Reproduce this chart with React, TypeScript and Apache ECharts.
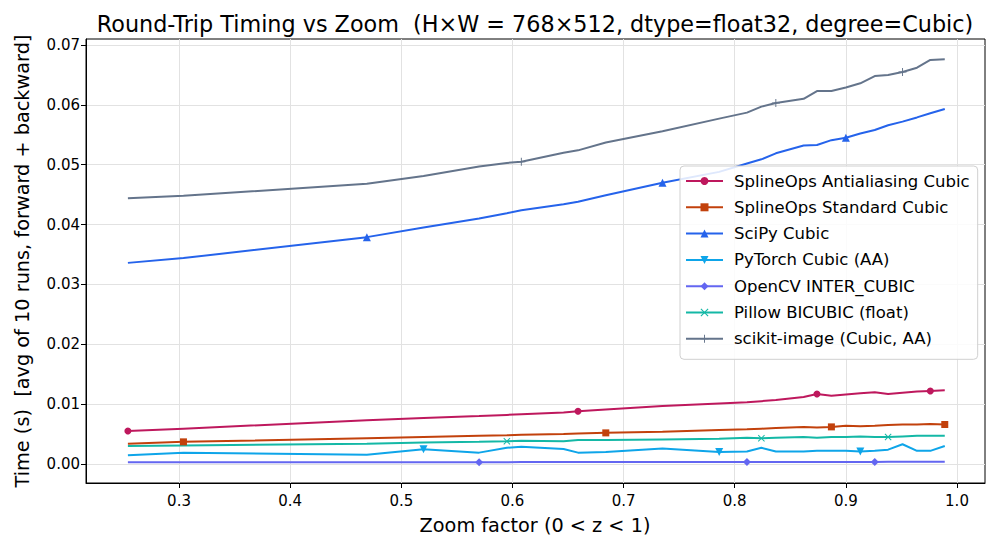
import React, { useEffect, useRef } from "react";
import * as echarts from "echarts";

const zoomFactors = [0.254, 0.304, 0.469, 0.52, 0.57, 0.595, 0.608, 0.646, 0.659, 0.684, 0.735, 0.786, 0.811, 0.824, 0.837, 0.862, 0.874, 0.887, 0.9, 0.913, 0.926, 0.938, 0.951, 0.964, 0.976, 0.989];

const seriesNames = [
  "SplineOps Antialiasing Cubic",
  "SplineOps Standard Cubic",
  "SciPy Cubic",
  "PyTorch Cubic (AA)",
  "OpenCV INTER_CUBIC",
  "Pillow BICUBIC (float)",
  "scikit-image (Cubic, AA)",
];

const splineAA = [0.0055, 0.0059, 0.0073, 0.0077, 0.008, 0.0082, 0.0083, 0.0086, 0.0088, 0.0091, 0.0097, 0.0101, 0.0103, 0.0105, 0.0107, 0.0112, 0.0117, 0.0114, 0.0116, 0.0118, 0.012, 0.0117, 0.0119, 0.0121, 0.0122, 0.0123];
const splineStd = [0.0034, 0.0037, 0.0043, 0.0045, 0.0047, 0.0048, 0.0049, 0.005, 0.0051, 0.0052, 0.0054, 0.0057, 0.0058, 0.0059, 0.006, 0.0062, 0.0061, 0.0062, 0.0064, 0.0063, 0.0064, 0.0065, 0.0066, 0.0066, 0.0067, 0.0066];
const scipy = [0.0336, 0.0344, 0.0379, 0.0395, 0.041, 0.0419, 0.0424, 0.0434, 0.0438, 0.0449, 0.047, 0.0488, 0.0502, 0.0509, 0.0519, 0.0532, 0.0533, 0.0541, 0.0545, 0.0552, 0.0558, 0.0566, 0.0572, 0.0579, 0.0586, 0.0593];
const pytorch = [0.00145, 0.0019, 0.00155, 0.00245, 0.0019, 0.0027, 0.0029, 0.0025, 0.0019, 0.002, 0.0026, 0.002, 0.0021, 0.0027, 0.0021, 0.0021, 0.0022, 0.0022, 0.0022, 0.0021, 0.0022, 0.0024, 0.0033, 0.0022, 0.0022, 0.003];
const opencv = [0.00028, 0.0003, 0.0003, 0.0003, 0.0003, 0.00031, 0.00032, 0.00032, 0.00032, 0.00032, 0.00033, 0.00033, 0.00033, 0.00034, 0.00034, 0.00034, 0.00034, 0.00035, 0.00035, 0.00035, 0.00035, 0.00036, 0.00036, 0.00036, 0.00036, 0.00037];
const pillow = [0.003, 0.0031, 0.0034, 0.0036, 0.0037, 0.0038, 0.0039, 0.0038, 0.004, 0.004, 0.0041, 0.0042, 0.0044, 0.0043, 0.0044, 0.0045, 0.0044, 0.0045, 0.0045, 0.0046, 0.0045, 0.0045, 0.0046, 0.0047, 0.0047, 0.0047];
const skimage = [0.0444, 0.0448, 0.0468, 0.0481, 0.0497, 0.0503, 0.0505, 0.052, 0.0524, 0.0537, 0.0556, 0.0577, 0.0587, 0.0597, 0.0603, 0.061, 0.0623, 0.0623, 0.0629, 0.0636, 0.0648, 0.065, 0.0655, 0.0662, 0.0675, 0.0676];

const seriesValues = [splineAA, splineStd, scipy, pytorch, opencv, pillow, skimage];

const xTicks = [0.3, 0.4, 0.5, 0.6, 0.7, 0.8, 0.9, 1.0];
const yTicks = [0, 0.01, 0.02, 0.03, 0.04, 0.05, 0.06, 0.07];

const titleText = "Round-Trip Timing vs Zoom  (H×W = 768×512, dtype=float32, degree=Cubic)";
const xLabelText = "Zoom factor (0 < z < 1)";
const yLabelText = "Time (s)  [avg of 10 runs, forward + backward]";

const COLORS = ["#be185d", "#c2410c", "#2563eb", "#0ea5e9", "#6366f1", "#14b8a6", "#64748b"];
const SYMBOLS = [
  "circle",
  "rect",
  "triangle",
  "path://M-1,-1L1,-1L0,1Z",
  "diamond",
  "path://M-1,-0.8L-0.8,-1L1,0.8L0.8,1Z M1,-0.8L0.8,-1L-1,0.8L-0.8,1Z",
  "path://M-1,-0.12L1,-0.12L1,0.12L-1,0.12Z M-0.12,-1L0.12,-1L0.12,1L-0.12,1Z",
];
const SYMBOL_SIZES = [7, 7, 8, 8, 8, 7, 8];
const MARK_STEP = 8;

const FONT = "DejaVu Sans";

export default function App() {
  const ref = useRef<HTMLDivElement>(null);
  useEffect(() => {
    if (!ref.current) return;
    const chart = echarts.init(ref.current, undefined, { renderer: "svg" });

    const series = seriesNames.map((name, i) => ({
      name,
      type: "line",
      symbol: SYMBOLS[i],
      symbolSize: SYMBOL_SIZES[i],
      showSymbol: true,
      showAllSymbol: true,
      color: COLORS[i],
      lineStyle: { width: 2, color: COLORS[i] },
      itemStyle: { color: COLORS[i] },
      emphasis: { disabled: true },
      data: zoomFactors.map((x, j) => {
        const marked = j >= i && (j - i) % MARK_STEP === 0;
        return marked
          ? { value: [x, seriesValues[i][j]] }
          : { value: [x, seriesValues[i][j]], symbol: "none" };
      }),
    }));

    chart.setOption({
      animation: false,
      textStyle: { fontFamily: FONT },
      grid: {
        left: 86,
        right: 15,
        top: 39,
        bottom: 67,
        show: true,
        borderColor: "#000",
        borderWidth: 1,
        backgroundColor: "transparent",
      },
      xAxis: {
        type: "value",
        min: 0.2163,
        max: 1.0252,
        splitNumber: 8,
        axisLine: { show: true, onZero: false, lineStyle: { color: "#000", width: 1 } },
        axisTick: { show: true, inside: false, length: 5, lineStyle: { color: "#000" }, customValues: xTicks },
        axisLabel: {
          color: "#000",
          fontSize: 15,
          fontFamily: FONT,
          margin: 10,
          customValues: xTicks,
          formatter: (v: number) => v.toFixed(1),
        },
        splitLine: { show: true, lineStyle: { color: "#e2e2e2", width: 1 } },
      },
      yAxis: {
        type: "value",
        min: -0.003174,
        max: 0.071,
        splitNumber: 7,
        axisLine: { show: true, onZero: false, lineStyle: { color: "#000", width: 1 } },
        axisTick: { show: true, inside: false, length: 5, lineStyle: { color: "#000" }, customValues: yTicks },
        axisLabel: {
          color: "#000",
          fontSize: 15,
          fontFamily: FONT,
          margin: 6,
          customValues: yTicks,
          formatter: (v: number) => v.toFixed(2),
        },
        splitLine: { show: true, lineStyle: { color: "#e2e2e2", width: 1 } },
      },
      legend: {
        orient: "vertical",
        left: 680,
        top: 166,
        padding: [6.5, 8, 12, 5],
        itemWidth: 37,
        itemHeight: 10,
        itemGap: 9.3,
        backgroundColor: "rgba(255,255,255,0.85)",
        borderColor: "#d0d0d0",
        borderWidth: 1,
        borderRadius: 4,
        selectedMode: false,
        textStyle: { fontSize: 16.5, fontFamily: FONT, color: "#000", lineHeight: 17, padding: [0, 0, 0, 6] },
        data: seriesNames,
      },
      graphic: [
        {
          type: "text",
          x: 535,
          y: 24,
          style: {
            text: titleText,
            x: 0,
            y: 0,
            textAlign: "center",
            textVerticalAlign: "middle",
            fontSize: 22.3,
            fontFamily: FONT,
            fill: "#000",
          },
        },
        {
          type: "text",
          x: 535,
          y: 525,
          style: {
            text: xLabelText,
            x: 0,
            y: 0,
            textAlign: "center",
            textVerticalAlign: "middle",
            fontSize: 19.3,
            fontFamily: FONT,
            fill: "#000",
          },
        },
        {
          type: "text",
          x: 22,
          y: 261,
          rotation: Math.PI / 2,
          style: {
            text: yLabelText,
            x: 0,
            y: 0,
            textAlign: "center",
            textVerticalAlign: "middle",
            fontSize: 19.3,
            fontFamily: FONT,
            fill: "#000",
          },
        },
      ],
      series,
    });

    return () => chart.dispose();
  }, []);

  return (
    <div
      ref={ref}
      style={{ position: "fixed", left: 0, top: 0, width: 1000, height: 550, background: "#fff" }}
    />
  );
}
